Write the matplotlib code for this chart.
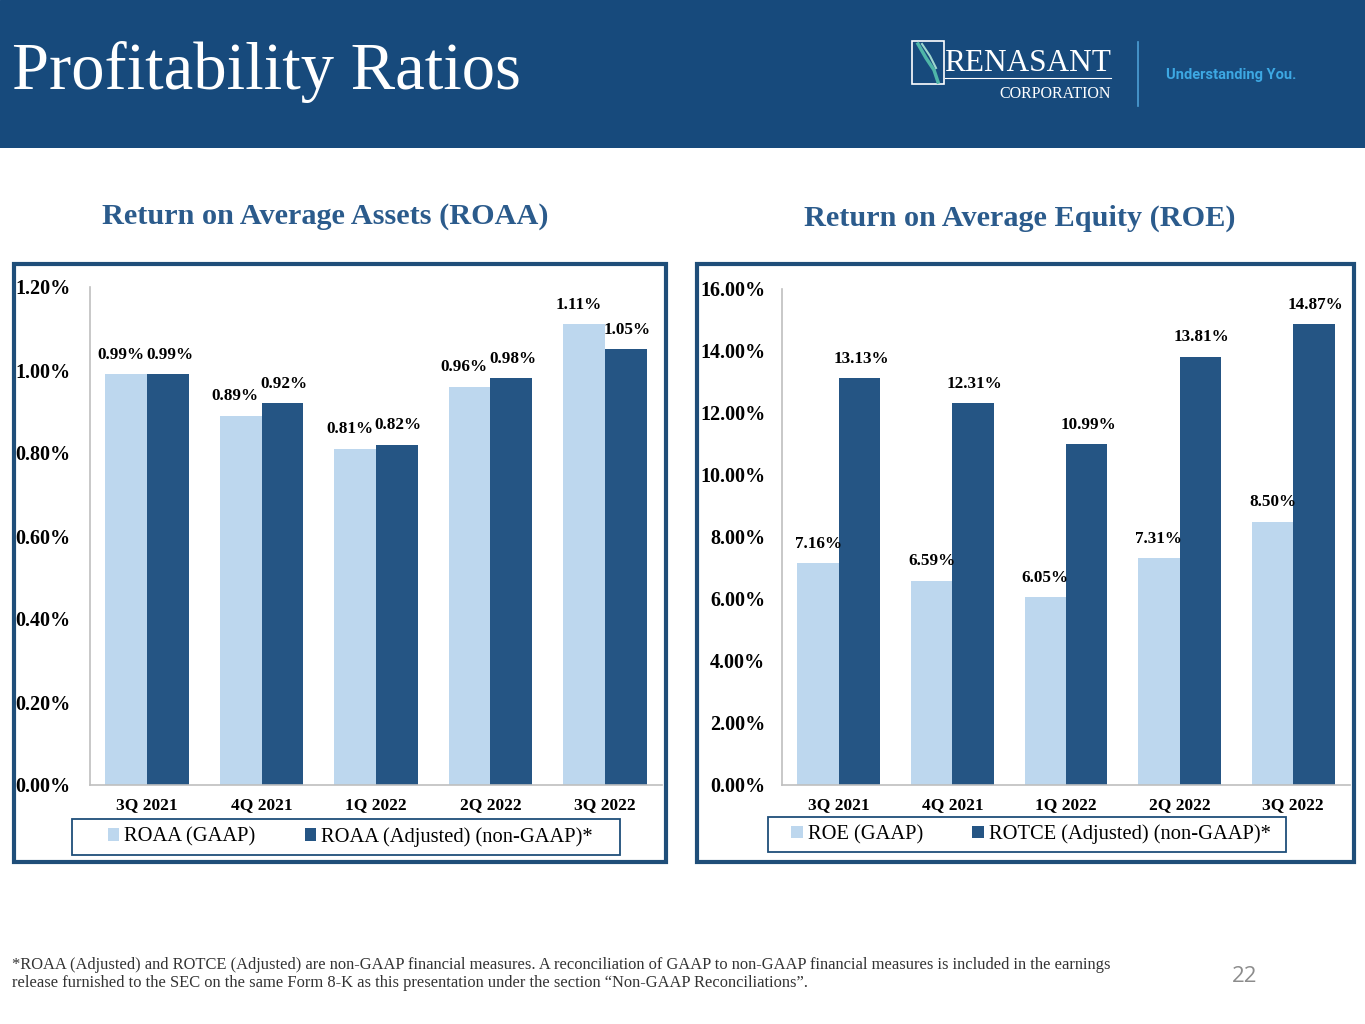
import matplotlib
matplotlib.use("Agg")
import matplotlib.pyplot as plt
from matplotlib.patches import Rectangle
import numpy as np

quarters = ["3Q 2021", "4Q 2021", "1Q 2022", "2Q 2022", "3Q 2022"]
roaa_gaap = [0.99, 0.89, 0.81, 0.96, 1.11]
roaa_adj = [0.99, 0.92, 0.82, 0.98, 1.05]
roe_gaap = [7.16, 6.59, 6.05, 7.31, 8.50]
rotce_adj = [13.13, 12.31, 10.99, 13.81, 14.87]
roaa_ticks = [0.0, 0.2, 0.4, 0.6, 0.8, 1.0, 1.2]
roe_ticks = [0, 2, 4, 6, 8, 10, 12, 14, 16]

W, H = 1365, 1024
LIGHT = "#BDD7EE"
DARK = "#255584"
HEADER = "#174A7C"
FRAME = "#1F4E79"
TITLEC = "#2B5B8C"
SERIF = ["Liberation Serif", "DejaVu Serif"]

fig = plt.figure(figsize=(W / 100, H / 100), dpi=100)
fig.patch.set_facecolor("white")

def px(x0, y0, x1, y1):
    return [x0 / W, 1 - y1 / H, (x1 - x0) / W, (y1 - y0) / H]

# header band
hdr = fig.add_axes(px(0, 0, W, 148))
hdr.set_xlim(0, W); hdr.set_ylim(148, 0); hdr.axis("off")
hdr.add_patch(Rectangle((0, 0), W, 148, color=HEADER))
hdr.text(12, 72, "Profitability Ratios", color="white", fontsize=48, family=SERIF,
         va="center", ha="left")
# logo
hdr.add_patch(Rectangle((912, 41), 32, 43, fill=False, ec="white", lw=1.2))
hdr.plot([918, 926, 934, 938], [44, 58, 70, 82], color="#4FB6A8", lw=2.5)
hdr.plot([922, 930, 936], [44, 56, 68], color="#9FD8CF", lw=1.5)
hdr.text(944, 71, "RENASANT", color="white", fontsize=22.5, family=SERIF, va="baseline", ha="left")
hdr.plot([945, 1111], [78, 78], color="white", lw=0.8)
hdr.text(1111, 98, "CORPORATION", color="white", fontsize=11.5, family=SERIF, va="baseline", ha="right")
hdr.plot([1138, 1138], [42, 106], color="#4C9FD6", lw=1.2)
hdr.text(1166, 75, "Understanding You.", color="#3DA8E3", fontsize=10.5, fontweight="bold",
         family=["Roboto", "DejaVu Sans"], va="center", ha="left")

# frames
frm = fig.add_axes([0, 0, 1, 1], zorder=-1)
frm.set_xlim(0, W); frm.set_ylim(H, 0); frm.axis("off")
frm.add_patch(Rectangle((14, 264), 652, 598, fill=False, ec=FRAME, lw=3))
frm.add_patch(Rectangle((697, 264), 657, 598, fill=False, ec=FRAME, lw=3))
frm.text(325, 217, "Return on Average Assets (ROAA)", color=TITLEC, fontsize=21.8,
         fontweight="bold", family=SERIF, ha="center", va="center")
frm.text(1020, 218, "Return on Average Equity (ROE)", color=TITLEC, fontsize=21.8,
         fontweight="bold", family=SERIF, ha="center", va="center")
frm.text(12, 965, "*ROAA (Adjusted) and ROTCE (Adjusted) are non-GAAP financial measures. A reconciliation of GAAP to non-GAAP financial measures is included in the earnings",
         fontsize=11.9, family=SERIF, color="#333333", va="center", ha="left")
frm.text(12, 983, "release furnished to the SEC on the same Form 8-K as this presentation under the section \u201cNon-GAAP Reconciliations\u201d.",
         fontsize=11.9, family=SERIF, color="#333333", va="center", ha="left")
frm.text(1245, 977, "22", fontsize=16, family=["Open Sans", "DejaVu Sans"], color="#8C8C8C",
         va="center", ha="center")


def chart(rect, a, b, ticks, ymax, tickfmt, labels, legend_box, pad, lshift):
    ax = fig.add_axes(px(*rect))
    x = np.arange(len(quarters))
    w = 0.365
    ax.bar(x - w / 2, a, w, color=LIGHT, label=labels[0])
    ax.bar(x + w / 2, b, w, color=DARK, label=labels[1])
    ax.set_xlim(-0.5, len(quarters) - 0.5)
    ax.set_ylim(0, ymax)
    ax.set_yticks(ticks)
    ax.set_yticklabels([tickfmt.format(t) for t in ticks], fontsize=14.5, fontweight="bold",
                       family=SERIF)
    ax.set_xticks(x)
    ax.set_xticklabels(quarters, fontsize=12.5, fontweight="bold", family=SERIF)
    ax.tick_params(axis="y", length=0, pad=pad)
    ax.tick_params(axis="x", length=0, pad=9)
    for s in ["top", "right"]:
        ax.spines[s].set_visible(False)
    for s in ["left", "bottom"]:
        ax.spines[s].set_color("#BFBFBF")
        ax.spines[s].set_linewidth(1.2)
    for xi, v in zip(x, a):
        ax.annotate(f"{v:.2f}%", (xi - w / 2, v), xytext=(lshift, 14), textcoords="offset points",
                    ha="center", va="center", fontsize=12.3, fontweight="bold", family=SERIF)
    for xi, v in zip(x, b):
        ax.annotate(f"{v:.2f}%", (xi + w / 2, v), xytext=(1, 14), textcoords="offset points",
                    ha="center", va="center", fontsize=12.3, fontweight="bold", family=SERIF)
    lx0, ly0, lx1, ly1 = legend_box
    frm.add_patch(Rectangle((lx0, ly0), lx1 - lx0, ly1 - ly0, fill=False, ec=FRAME, lw=1.3))
    fig.legend(handles=ax.get_legend_handles_labels()[0], labels=labels,
               loc="center", bbox_to_anchor=((lx0 + lx1) / 2 / W + 0.003, 1 - (ly0 + ly1) / 2 / H),
               ncol=2, frameon=False,
               prop={"family": SERIF, "size": 14.8}, handlelength=0.55, handleheight=0.55,
               handletextpad=0.25, columnspacing=2.4, borderpad=0.3)
    return ax

chart((90, 287, 662, 785), roaa_gaap, roaa_adj, roaa_ticks, 1.2, "{:.2f}%",
      ["ROAA (GAAP)", "ROAA (Adjusted) (non-GAAP)*"], (72, 819, 620, 855), 14, -4)
chart((782, 289, 1350, 785), roe_gaap, rotce_adj, roe_ticks, 16, "{:.2f}%",
      ["ROE (GAAP)", "ROTCE (Adjusted) (non-GAAP)*"], (768, 817, 1286, 852), 12, 0)

fig.savefig("out.png", dpi=100, facecolor="white")
